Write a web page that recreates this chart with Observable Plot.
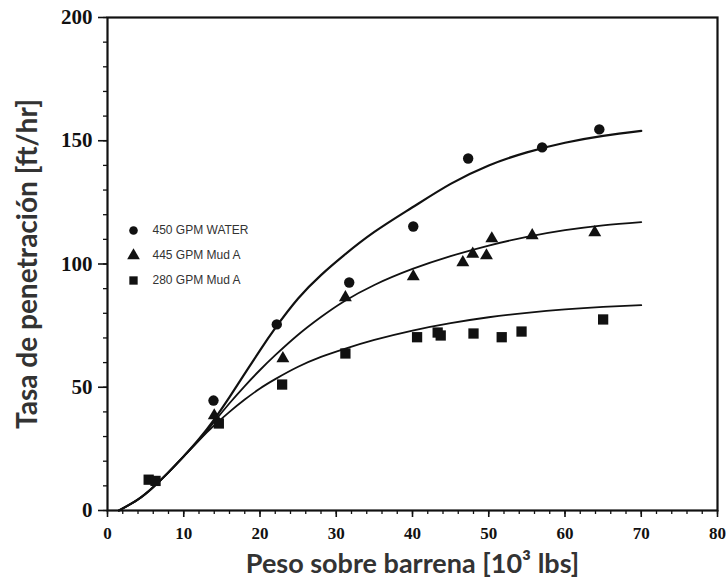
<!DOCTYPE html>
<html>
<head>
<meta charset="utf-8">
<script src="https://cdn.jsdelivr.net/npm/d3@7"></script>
<script src="https://cdn.jsdelivr.net/npm/@observablehq/plot@0.6"></script>
<style>
  html, body { margin: 0; padding: 0; background: #fff; }
  #chart { position: relative; width: 726px; height: 580px; }
</style>
</head>
<body>
<div id="chart"></div>
<script>
// ---- data ----
const seriesNames = ["450 GPM WATER", "445 GPM Mud A", "280 GPM Mud A"];
const seriesSymbols = ["circle", "triangle", "square"];

// measured points
const waterX = [13.9, 22.2, 31.7, 40.1, 47.3, 57.0, 64.5];
const waterY = [44.6, 75.5, 92.5, 115.2, 142.8, 147.3, 154.6];
const mud445X = [14.0, 23.0, 31.2, 40.1, 46.6, 47.9, 49.7, 50.4, 55.7, 63.9];
const mud445Y = [38.5, 61.7, 86.4, 94.9, 100.6, 104.1, 103.4, 110.3, 111.6, 112.8];
const mud280X = [5.4, 6.3, 14.6, 22.9, 31.2, 40.6, 43.3, 43.7, 48.0, 51.7, 54.3, 65.0];
const mud280Y = [12.5, 12.0, 35.3, 51.1, 63.7, 70.3, 72.2, 71.0, 71.8, 70.3, 72.6, 77.5];

// fitted curves
const curveX = [1.5, 4, 6, 8, 10, 12, 14, 16, 18, 20, 22, 25, 28, 31, 35, 40, 45, 50, 55, 60, 65, 70];
const waterCurveY = [0, 4.5, 9.5, 15.5, 22, 29, 37, 46, 55.5, 65, 74, 86, 95.5, 103.5, 113, 123, 132.5, 140, 145.3, 149.2, 152, 154];
const mud445CurveY = [0, 4.5, 9.5, 15.5, 22, 28.5, 36, 43.5, 50.5, 57, 63, 71.3, 78.5, 84.8, 91.5, 98, 103.2, 107.5, 111, 113.7, 115.7, 117];
const mud280CurveY = [0, 4.5, 9.5, 15.5, 22, 28.5, 34.5, 40, 45, 49.5, 53.3, 58.3, 62.3, 65.5, 69.2, 73, 76, 78.4, 80.2, 81.6, 82.6, 83.3];

const xTicks = [0, 10, 20, 30, 40, 50, 60, 70, 80];
const xMinorTicks = d3.range(0, 81, 2);
const yTicks = [0, 50, 100, 150, 200];
const yMinorTicks = d3.range(0, 201, 10);

const xLabel = "Peso sobre barrena [10³ lbs]";
const yLabel = "Tasa de penetración [ft/hr]";

// ---- build tables ----
const toPts = (xs, ys) => xs.map((x, i) => ({x, y: ys[i]}));
const waterPts = toPts(waterX, waterY);
const mud445Pts = toPts(mud445X, mud445Y);
const mud280Pts = toPts(mud280X, mud280Y);
const waterCurve = toPts(curveX, waterCurveY);
const mud445Curve = toPts(curveX, mud445CurveY);
const mud280Curve = toPts(curveX, mud280CurveY);

// ---- layout ----
const W = 726, H = 580;
const mL = 107, mR = 9, mT = 17, mB = 70;
const innerW = W - mL - mR, innerH = H - mT - mB;

const ink = "#111";
const labelColor = "#333";
const tickFont = "'Liberation Serif', 'DejaVu Serif', serif";
const titleFont = "Lato, 'Open Sans', sans-serif";

// outward tick marks of a given length
const xTickMarks = (ticks, len, sw) =>
  Plot.tickX(ticks, {x: d => d, insetTop: innerH - len, dy: len, stroke: ink, strokeWidth: sw});
const yTickMarks = (ticks, len, sw) =>
  Plot.tickY(ticks, {y: d => d, insetRight: innerW - len, dx: -len, stroke: ink, strokeWidth: sw});

const legendMarks = seriesNames.flatMap((name, i) => [
  Plot.dot([name], {frameAnchor: "top-left", dx: 26, dy: 213 + i * 25,
    symbol: () => seriesSymbols[i], r: i === 0 ? 4.3 : 4.7, fill: ink, stroke: "none"}),
  Plot.text([name], {frameAnchor: "top-left", dx: 45, dy: 213 + i * 25,
    textAnchor: "start", lineAnchor: "middle", fontSize: 12, letterSpacing: 1.1, fill: labelColor,
    fontFamily: "'Liberation Sans', Arial, sans-serif"})
]);

const plot = Plot.plot({
  width: W,
  height: H,
  marginLeft: mL,
  marginRight: mR,
  marginTop: mT,
  marginBottom: mB,
  style: {background: "#fff", fontFamily: tickFont, color: ink},
  x: {domain: [0, 80]},
  y: {domain: [0, 200]},
  marks: [
    // tick marks
    xTickMarks(xMinorTicks, 4, 1.3),
    xTickMarks(xTicks, 7, 1.6),
    yTickMarks(yMinorTicks, 4, 1.3),
    yTickMarks(yTicks, 9, 1.6),
    // tick labels
    Plot.axisX({ticks: xTicks, tickSize: 0, tickPadding: 16, label: null,
      fontSize: 17, fontWeight: "bold", fontFamily: tickFont, fill: ink}),
    Plot.axisY({ticks: yTicks, tickSize: 0, tickPadding: 15, label: null,
      fontSize: 21, fontWeight: "bold", fontFamily: tickFont, fill: ink}),
    Plot.frame({stroke: ink, strokeWidth: 2.2}),
    // curves
    Plot.line(waterCurve, {x: "x", y: "y", curve: "natural", stroke: ink, strokeWidth: 2.2}),
    Plot.line(mud445Curve, {x: "x", y: "y", curve: "natural", stroke: ink, strokeWidth: 1.8}),
    Plot.line(mud280Curve, {x: "x", y: "y", curve: "natural", stroke: ink, strokeWidth: 1.8}),
    // points
    Plot.dot(waterPts, {x: "x", y: "y", symbol: "circle", r: 5.2, fill: ink, stroke: "none"}),
    Plot.dot(mud445Pts, {x: "x", y: "y", symbol: "triangle", r: 4.8, fill: ink, stroke: "none"}),
    Plot.dot(mud280Pts, {x: "x", y: "y", symbol: "square", r: 5.8, fill: ink, stroke: "none"}),
    // legend
    ...legendMarks,
    // axis titles
    Plot.text([yLabel], {frameAnchor: "left", textAnchor: "middle", lineAnchor: "middle", dx: -79, rotate: -90,
      fontSize: 28, fontWeight: "bold", fill: labelColor, fontFamily: titleFont, letterSpacing: 1.2}),
    Plot.text([xLabel], {frameAnchor: "bottom", textAnchor: "middle", lineAnchor: "middle", dy: 54,
      fontSize: 27, fontWeight: "bold", fill: labelColor, fontFamily: titleFont, letterSpacing: 1.3})
  ]
});
document.getElementById("chart").appendChild(plot);
</script>
</body>
</html>
